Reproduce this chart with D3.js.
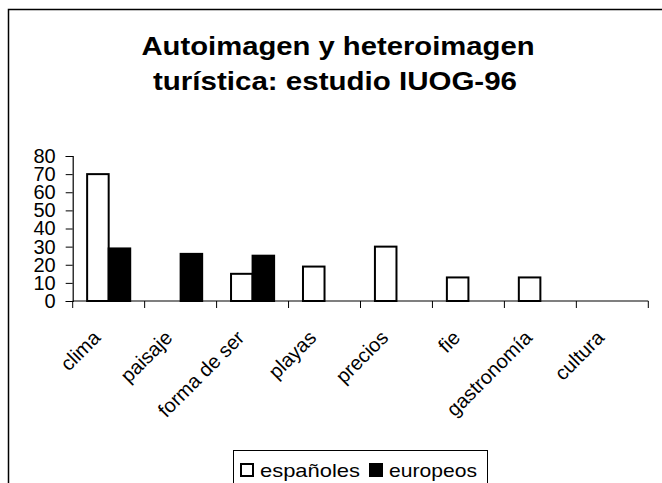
<!DOCTYPE html>
<html>
<head>
<meta charset="utf-8">
<script src="https://cdn.jsdelivr.net/npm/d3@7"></script>
<style>
  body { margin: 0; background: #fff; }
  #chart { position: relative; width: 662px; height: 483px; overflow: hidden; }
  text { font-family: "Liberation Sans", Arial, sans-serif; fill: #000; }
</style>
</head>
<body>
<div id="chart"></div>
<script>
// data
var categories = ["clima", "paisaje", "forma de ser", "playas", "precios", "fiestas", "gastronomía", "cultura"];
var tickLabels = ["clima", "paisaje", "forma de ser", "playas", "precios", "fie", "gastronomía", "cultura"];
var seriesNames = ["españoles", "europeos"];
var espanoles = [70, null, 15, 19, 30, 13, 13, null];
var europeos = [29, 26, 25, null, null, null, null, null];
var yTicks = [0, 10, 20, 30, 40, 50, 60, 70, 80];
var titleLines = ["Autoimagen y heteroimagen", "turística: estudio IUOG-96"];

var fills = { "españoles": "#fff", "europeos": "#000" };

var svg = d3.select("#chart")
  .append("svg")
    .attr("width", 662)
    .attr("height", 483)
    .style("display", "block");

// outer chart border (runs off the picture right and bottom)
svg.append("rect")
  .attr("x", 8.5)
  .attr("y", 9.5)
  .attr("width", 700)
  .attr("height", 520)
  .attr("fill", "#fff")
  .attr("stroke", "#000")
  .attr("stroke-width", 1.5);

// title
svg.append("text")
  .attr("x", 338)
  .attr("y", 55)
  .attr("text-anchor", "middle")
  .attr("font-size", 26)
  .attr("font-weight", "bold")
  .attr("textLength", 393)
  .attr("lengthAdjust", "spacingAndGlyphs")
  .text(titleLines[0]);

svg.append("text")
  .attr("x", 335)
  .attr("y", 90)
  .attr("text-anchor", "middle")
  .attr("font-size", 26)
  .attr("font-weight", "bold")
  .attr("textLength", 364)
  .attr("lengthAdjust", "spacingAndGlyphs")
  .text(titleLines[1]);

// scales
var x0 = d3.scaleBand()
  .domain(categories)
  .range([72.7, 648.3])
  .padding(0);

var x1 = d3.scaleBand()
  .domain(seriesNames)
  .range([0, x0.bandwidth()])
  .paddingInner(0)
  .paddingOuter(0.67);

var y = d3.scaleLinear()
  .domain([0, 80])
  .range([301, 156]);

// y axis
var yAxis = svg.append("g")
  .attr("transform", "translate(72.7,0)")
  .call(d3.axisLeft(y).tickValues(yTicks).tickSize(7).tickPadding(10));
yAxis.select(".domain").attr("stroke", "#000").attr("stroke-width", 1.2);
yAxis.selectAll(".tick line").attr("stroke", "#000").attr("stroke-width", 1);
yAxis.selectAll(".tick text")
  .attr("font-size", 20)
  .attr("font-family", "Liberation Sans, Arial, sans-serif")
  .attr("fill", "#000");

// bars
var rows = categories.map(function (c, i) {
  return { cat: c, values: [
    { key: "españoles", v: espanoles[i] },
    { key: "europeos", v: europeos[i] }
  ] };
});

var groups = svg.selectAll("g.grp")
  .data(rows)
  .enter().append("g")
    .attr("class", "grp")
    .attr("transform", function (d) { return "translate(" + x0(d.cat) + ",0)"; });

groups.selectAll("rect")
  .data(function (d) { return d.values.filter(function (e) { return e.v != null; }); })
  .enter().append("rect")
    .attr("x", function (d) { return x1(d.key); })
    .attr("width", x1.bandwidth())
    .attr("y", function (d) { return y(d.v); })
    .attr("height", function (d) { return y(0) - y(d.v); })
    .attr("fill", function (d) { return fills[d.key]; })
    .attr("stroke", "#000")
    .attr("stroke-width", 2);

// x axis (ticks on band edges)
var xAxis = svg.append("g")
  .attr("transform", "translate(0,301)");

xAxis.append("line")
  .attr("x1", x0.range()[0])
  .attr("x2", x0.range()[1])
  .attr("stroke", "#000")
  .attr("stroke-width", 1.2);

var edges = categories.map(function (c) { return x0(c); }).concat([x0.range()[1]]);
xAxis.selectAll("line.tk")
  .data(edges)
  .enter().append("line")
    .attr("class", "tk")
    .attr("x1", function (d) { return d; })
    .attr("x2", function (d) { return d; })
    .attr("y1", 0)
    .attr("y2", 7)
    .attr("stroke", "#000");

// category labels, rotated
xAxis.selectAll("text.lbl")
  .data(categories)
  .enter().append("text")
    .attr("class", "lbl")
    .attr("text-anchor", "end")
    .attr("font-size", 20)
    .attr("transform", function (d) {
      var cx = x0(d) + x0.bandwidth() / 2 - 7;
      return "translate(" + cx + ",38) rotate(-45)";
    })
    .text(function (d, i) { return tickLabels[i]; });

// legend
var legend = svg.append("g");
legend.append("rect")
  .attr("x", 233.5)
  .attr("y", 450.5)
  .attr("width", 254)
  .attr("height", 45)
  .attr("fill", "#fff")
  .attr("stroke", "#000")
  .attr("stroke-width", 1);

var legendX = [240, 369];
var legendTextW = [100, 88];
seriesNames.forEach(function (s, i) {
  legend.append("rect")
    .attr("x", legendX[i] + 1)
    .attr("y", 464)
    .attr("width", 12)
    .attr("height", 12)
    .attr("fill", fills[s])
    .attr("stroke", "#000")
    .attr("stroke-width", 2);
  legend.append("text")
    .attr("x", legendX[i] + 20)
    .attr("y", 477)
    .attr("font-size", 19)
    .attr("textLength", legendTextW[i])
    .attr("lengthAdjust", "spacingAndGlyphs")
    .text(s);
});
</script>
</body>
</html>
